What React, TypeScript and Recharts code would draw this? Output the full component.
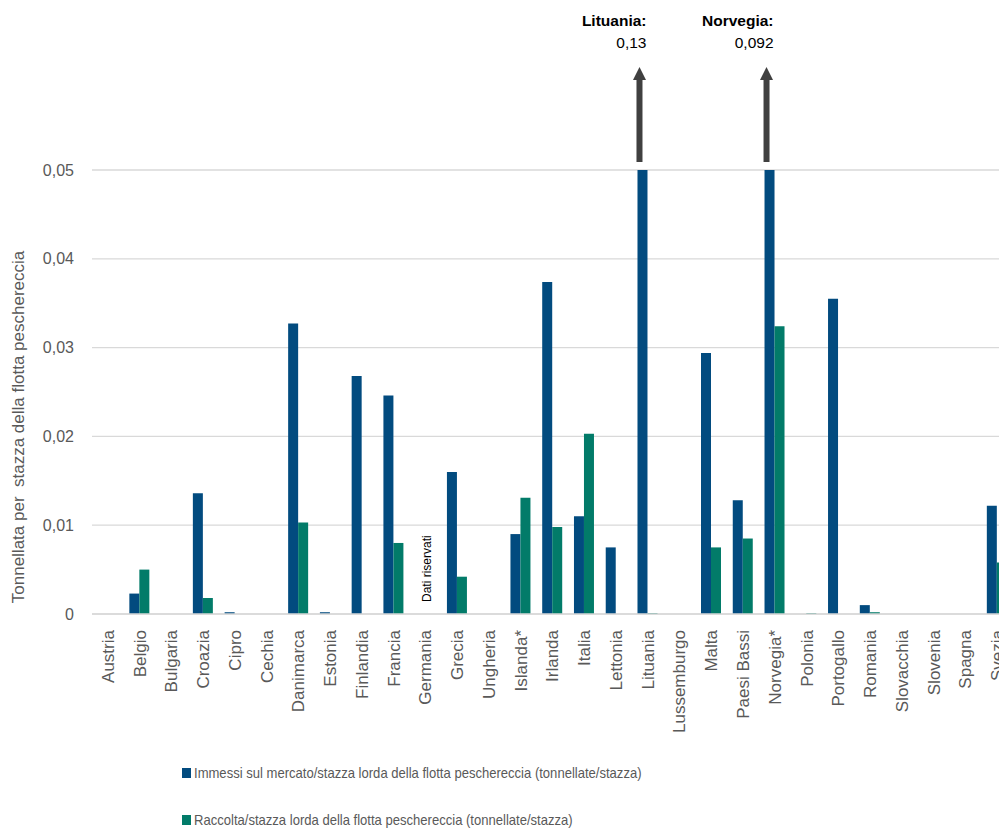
import { BarChart, Bar, XAxis, YAxis, CartesianGrid, LabelList, ReferenceLine, Label } from 'recharts';

const paesi = [
  'Austria', 'Belgio', 'Bulgaria', 'Croazia', 'Cipro', 'Cechia', 'Danimarca', 'Estonia',
  'Finlandia', 'Francia', 'Germania', 'Grecia', 'Ungheria', 'Islanda*', 'Irlanda', 'Italia',
  'Lettonia', 'Lituania', 'Lussemburgo', 'Malta', 'Paesi Bassi', 'Norvegia*', 'Polonia',
  'Portogallo', 'Romania', 'Slovacchia', 'Slovenia', 'Spagna', 'Svezia',
];

// Immessi sul mercato / stazza lorda (tonnellate/stazza)
const immessi = [
  null, 0.0023, null, 0.0136, 0.0002, null, 0.0327, 0.0002,
  0.0268, 0.0246, null, 0.016, null, 0.009, 0.0374, 0.011,
  0.0075, 0.13, null, 0.0294, 0.0128, 0.092, null,
  0.0355, 0.001, null, null, null, 0.0122,
];

// Raccolta / stazza lorda (tonnellate/stazza)
const raccolta = [
  null, 0.005, null, 0.0018, null, null, 0.0103, null,
  null, 0.008, null, 0.0042, null, 0.0131, 0.0098, 0.0203,
  null, 0.0001, null, 0.0075, 0.0085, 0.0324, 0.0001,
  null, 0.0002, null, null, null, 0.0058,
];

const yTicks = [0, 0.01, 0.02, 0.03, 0.04, 0.05];
const datiRiservati = ['Germania'];

const legenda = [
  'Immessi sul mercato/stazza lorda della flotta peschereccia (tonnellate/stazza)',
  'Raccolta/stazza lorda della flotta peschereccia (tonnellate/stazza)',
];

const BLU = '#024B7F';
const VERDE = '#027B69';
const GRIGIO = '#595959';
const FONT = '"Liberation Sans", Arial, sans-serif';

const MARGIN = { top: 170, right: 17, left: 0, bottom: 0 };
const Y_MAX = yTicks[yTicks.length - 1];

const data = paesi.map((paese, i) => ({ paese, immessi: immessi[i], raccolta: raccolta[i] }));

const fmt = (v: number) => (v === 0 ? '0' : String(v).replace('.', ','));

function XTick({ x, y, payload }: any) {
  return (
    <text
      transform={`translate(${x},${y + 14}) rotate(-90)`}
      textAnchor="end"
      dy="0.35em"
      fontSize={17}
      fill={GRIGIO}
      fontFamily={FONT}
    >
      {payload.value}
    </text>
  );
}

// arrow + note for bars that go past the top of the axis
function FuoriScala(props: any) {
  const { x, width, value } = props;
  if (value == null || value <= Y_MAX) return null;
  const row = data.find(d => d.immessi === value);
  const top = MARGIN.top;
  const cx = x + 2;
  const right = x + width - 1;
  return (
    <g>
      <rect x={cx - 3} y={top - 90} width={6} height={82} fill="#404040" />
      <path d={`M${cx - 6.5},${top - 90} L${cx + 6.5},${top - 90} L${cx},${top - 103} Z`} fill="#404040" />
      <text x={right} y={top - 144} textAnchor="end" fontSize={15.5} fontWeight="bold" fill="#000" fontFamily={FONT}>
        {row ? row.paese.replace('*', '') : ''}:
      </text>
      <text x={right} y={top - 122} textAnchor="end" fontSize={15.5} fill="#000" fontFamily={FONT}>
        {fmt(value)}
      </text>
    </g>
  );
}

function NotaRiservata({ viewBox }: any) {
  if (!viewBox) return null;
  const bottom = viewBox.y + viewBox.height;
  return (
    <text
      transform={`translate(${viewBox.x + 1},${bottom - 12}) rotate(-90)`}
      textAnchor="start"
      dy="0.35em"
      fontSize={12}
      fill="#000"
      fontFamily={FONT}
    >
      Dati riservati
    </text>
  );
}

function YLabel({ viewBox }: any) {
  const cy = viewBox ? viewBox.y + viewBox.height / 2 + 35 : 427;
  return (
    <text
      transform={`translate(18,${cy}) rotate(-90)`}
      textAnchor="middle"
      dy="0.35em"
      fontSize={17}
      fill={GRIGIO}
      fontFamily={FONT}
      style={{ whiteSpace: 'pre' }}
    >
      Tonnellata per  stazza della flotta peschereccia
    </text>
  );
}

export default function App() {
  return (
    <div style={{ position: 'fixed', left: 0, top: 0, width: 999, height: 830, overflow: 'hidden', background: '#fff' }}>
      <BarChart
        width={1030}
        height={740}
        data={data}
        margin={MARGIN}
        barCategoryGap="17.6%"
        barGap={0}
      >
        <CartesianGrid vertical={false} stroke="#D9D9D9" strokeWidth={1.3} />
        <XAxis
          dataKey="paese"
          interval={0}
          height={126}
          tickSize={0}
          tickLine={false}
          axisLine={{ stroke: '#D9D9D9', strokeWidth: 1.3 }}
          tick={<XTick />}
        />
        <YAxis
          width={92}
          domain={[0, Y_MAX]}
          ticks={yTicks}
          allowDataOverflow
          axisLine={false}
          tickLine={false}
          tickSize={0}
          tickMargin={18}
          tickFormatter={fmt}
          tick={{ fontSize: 16, fill: GRIGIO, fontFamily: FONT }}
          label={<YLabel />}
        />
        <Bar dataKey="immessi" fill={BLU} isAnimationActive={false}>
          <LabelList dataKey="immessi" content={<FuoriScala />} />
        </Bar>
        <Bar dataKey="raccolta" fill={VERDE} isAnimationActive={false} />
        {datiRiservati.map(p => (
          <ReferenceLine key={p} x={p} stroke="none">
            <Label content={<NotaRiservata />} />
          </ReferenceLine>
        ))}
      </BarChart>
      {legenda.map((testo, i) => (
        <div
          key={testo}
          style={{
            position: 'absolute',
            left: 182,
            top: 763 + i * 47,
            height: 20,
            display: 'flex',
            alignItems: 'center',
            fontFamily: FONT,
            fontSize: 14.5,
            color: GRIGIO,
            whiteSpace: 'nowrap',
          }}
        >
          <span style={{ display: 'inline-block', width: 9, height: 10, background: i === 0 ? BLU : VERDE, marginRight: 3 }} />
          <span style={{ display: 'inline-block', transform: 'scaleX(0.9)', transformOrigin: 'left center' }}>{testo}</span>
        </div>
      ))}
    </div>
  );
}
